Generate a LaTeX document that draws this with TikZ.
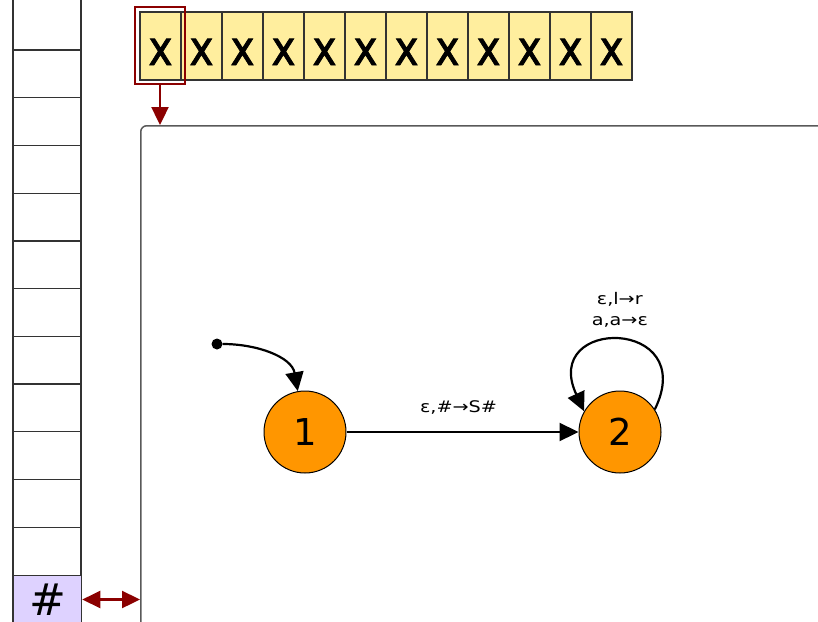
\documentclass[tikz,border=0pt]{standalone}
\usepackage{fontspec}
\setmainfont{DejaVu Sans}
\newfontfamily\tapefont[FakeStretch=0.85, FakeBold=1.5]{DejaVu Sans}
\newfontfamily\lblfont[FakeStretch=1.2]{DejaVu Sans}
\usetikzlibrary{arrows.meta}
\definecolor{tapey}{RGB}{255,238,158}
\definecolor{stackv}{RGB}{222,210,255}
\definecolor{statec}{RGB}{255,150,0}
\definecolor{headr}{RGB}{139,0,0}
\begin{document}
\begin{tikzpicture}[x=1pt,y=1pt,
  cellbox/.style={draw=black!80, line width=1.2pt, fill=tapey, minimum width=41pt,
    minimum height=68pt, inner sep=0pt, font=\tapefont\fontsize{48}{48}\selectfont,
    text height=38pt, text depth=0pt},
  stackline/.style={draw=black!80, line width=1.3pt},
  headbox/.style={draw=headr, line width=2.2pt, inner sep=0pt, minimum width=50pt, minimum height=77pt},
  redarrow/.style={draw=headr, line width=2.4pt},
  rtip/.tip={Triangle[length=18pt,width=17pt]},
  machinebox/.style={draw=black!65, line width=1.5pt, rounded corners=6pt, inner sep=0pt,
    minimum width=720pt, minimum height=540pt, anchor=north west},
  state/.style={circle, draw=black, line width=1pt, fill=statec, minimum size=82pt, inner sep=0pt,
    font=\fontsize{37}{37}\selectfont},
  edge/.style={draw=black, line width=2.2pt, -{Triangle[length=19pt,width=18pt]}},
  lbl/.style={font=\lblfont\fontsize{16}{21}\selectfont, align=center, inner sep=0pt}
]
\useasboundingbox (0,0) rectangle (818,-621);
% stack
\draw[stackline] (13,0) -- (13,-625);
\draw[stackline] (81,0) -- (81,-625);
\foreach \k in {0,...,10} \draw[stackline] (13,{-50-47.73*\k}) -- (81,{-50-47.73*\k});
\node[stackline, fill=stackv, minimum width=68pt, minimum height=47.7pt, inner sep=0pt,
  anchor=north west, font=\fontsize{44}{44}\selectfont] (bot) at (13,-575) {\#};
% tape
\foreach \i in {1,...,12} \node[cellbox] (t\i) at ({140+41*\i-20.5},-46) {x};
\node[headbox] (head) at (160,-45.5) {};
% machine
\node[machinebox] (machine) at (140,-125) {};
\draw[redarrow, -rtip] (head.south) -- (head.south |- machine.north);
\draw[redarrow, rtip-rtip] (bot.east) -- (bot.east -| machine.west);
% automaton
\node[state] (s1) at (305,-432) {1};
\node[state] (s2) at (620,-432) {2};
\node[circle, fill=black, inner sep=0pt, minimum size=11pt] (init) at (217,-344) {};
\draw[edge] (init) to[out=0, in=100] (s1.100);
\draw[edge] (s1) -- node[lbl, midway, yshift=25pt, xshift=-4pt] {ε,\#→S\#} (s2);
\draw[edge] (s2.33) .. controls +(45,92) and +(-44,95) .. node[lbl, pos=0.5, anchor=south, yshift=12pt] {ε,l→r\\a,a→ε} (s2.150);
\end{tikzpicture}
\end{document}
